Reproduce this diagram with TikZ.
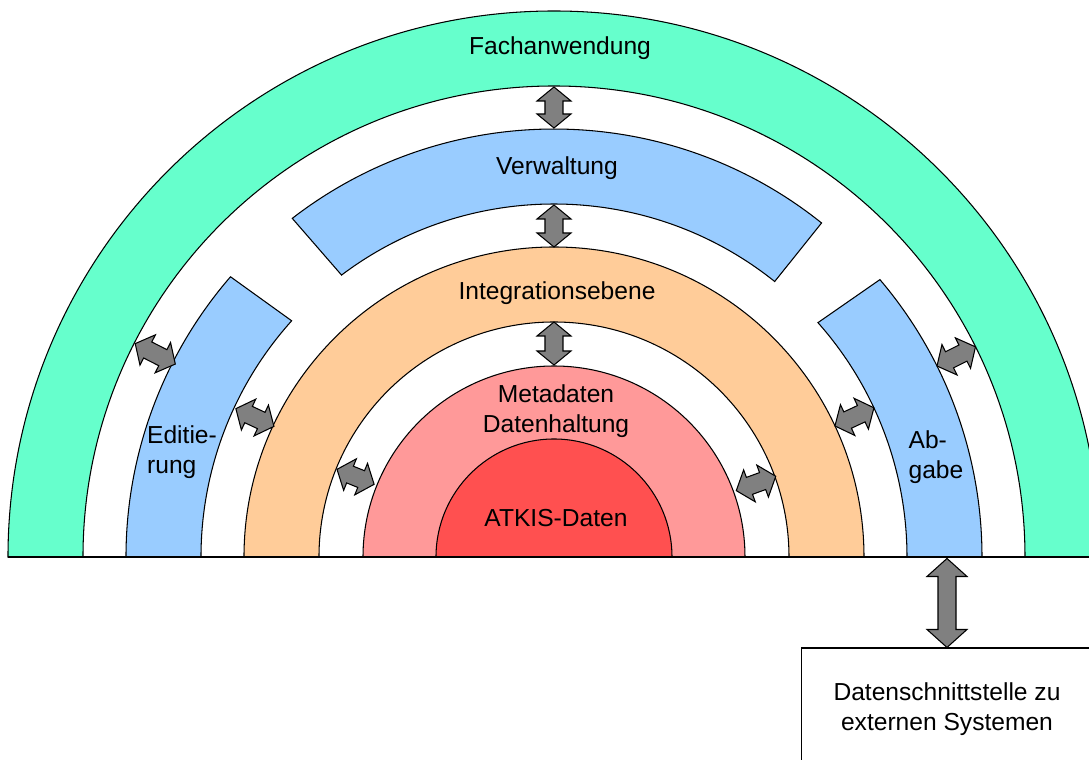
\documentclass[tikz,border=0pt]{standalone}
\usepackage{fontspec}
\setmainfont{Liberation Sans}
\usepackage{tikz}
\definecolor{ringgreen}{RGB}{102,255,204}
\definecolor{ringblue}{RGB}{153,204,255}
\definecolor{ringorange}{RGB}{255,204,153}
\definecolor{ringpink}{RGB}{255,153,153}
\definecolor{ringred}{RGB}{255,80,80}
\definecolor{arrowgray}{RGB}{128,128,128}

% block arrow with two heads: angle, start radius, end radius, head length, head half width
\newcommand{\blockarrow}[5]{%
  \draw[dblarrow,rotate=#1] (#2,0) -- (#2+#4,#5) -- (#2+#4,9) -- (#3-#4,9) -- (#3-#4,#5)
    -- (#3,0) -- (#3-#4,-#5) -- (#3-#4,-9) -- (#2+#4,-9) -- (#2+#4,-#5) -- cycle;}

\begin{document}
\begin{tikzpicture}[x=0.02cm,y=0.02cm,
  ring/.style={draw,line width=0.6pt},
  lbl/.style={font=\fontsize{14}{17}\selectfont},
  dblarrow/.style={draw,fill=arrowgray,line width=0.6pt,line join=miter}]
\useasboundingbox (-554,-203) rectangle (535,557);
\fill[white] (-554,-203) rectangle (535,557);
\clip (-554,-203) rectangle (535,557);

% Rings
\draw[ring,fill=ringgreen] (546,0) arc[start angle=0,end angle=180,radius=546] -- (-471,0) arc[start angle=180,end angle=0,radius=471] -- cycle;
\draw[ring,fill=ringblue] (139.1:428) arc[start angle=139.1,end angle=180,radius=428] -- (-353,0) arc[start angle=180,end angle=138,radius=353] -- cycle;
\draw[ring,fill=ringblue] (51.3:428) arc[start angle=51.3,end angle=127.7,radius=428] -- (127:353) arc[start angle=127,end angle=51.3,radius=353] -- cycle;
\draw[ring,fill=ringblue] (428,0) arc[start angle=0,end angle=40.4,radius=428] -- (41.6:353) arc[start angle=41.6,end angle=0,radius=353] -- cycle;
\draw[ring,fill=ringorange] (310,0) arc[start angle=0,end angle=180,radius=310] -- (-235,0) arc[start angle=180,end angle=0,radius=235] -- cycle;
\draw[ring,fill=ringpink] (191,0) arc[start angle=0,end angle=180,radius=191] -- cycle;
\draw[ring,fill=ringred] (118,0) arc[start angle=0,end angle=180,radius=118] -- cycle;
\draw[ring] (-546,0) -- (546,0);

% Labels
\node[lbl,anchor=base] (fach) at (6,502) {Fachanwendung};
\node[lbl,anchor=base] (verw) at (3,382) {Verwaltung};
\node[lbl,anchor=base] (integ) at (3,257) {Integrationsebene};
\node[lbl,align=center] (meta) at (2,146) {Metadaten\\Datenhaltung};
\node[lbl,anchor=base] (atkis) at (2,30) {ATKIS-Daten};
\node[lbl,align=left] (edit) at (-372,105) {Editie-\\rung};
\node[lbl,align=left] (abgabe) at (382,100) {Ab-\\gabe};

% Interface
\node[lbl,draw,fill=white,line width=0.6pt,minimum width=5.84cm,minimum height=2.44cm,align=center] (extern) at (393,-152) {Datenschnittstelle zu\\externen Systemen};

% Arrows
\blockarrow{90}{429}{470}{14}{17}
\blockarrow{90}{310}{352}{14}{17}
\blockarrow{90}{192}{235}{14}{17}
\blockarrow{153}{425}{470}{14}{17}
\blockarrow{155}{309}{351}{14}{17}
\blockarrow{158}{194}{234}{14}{17}
\blockarrow{26.5}{428}{471}{14}{17}
\blockarrow{25}{310}{353}{14}{17}
\blockarrow{20}{194}{236}{14}{17}
\begin{scope}[shift={(extern.north)}]
\blockarrow{90}{0}{89}{18}{20}
\end{scope}
\end{tikzpicture}
\end{document}
